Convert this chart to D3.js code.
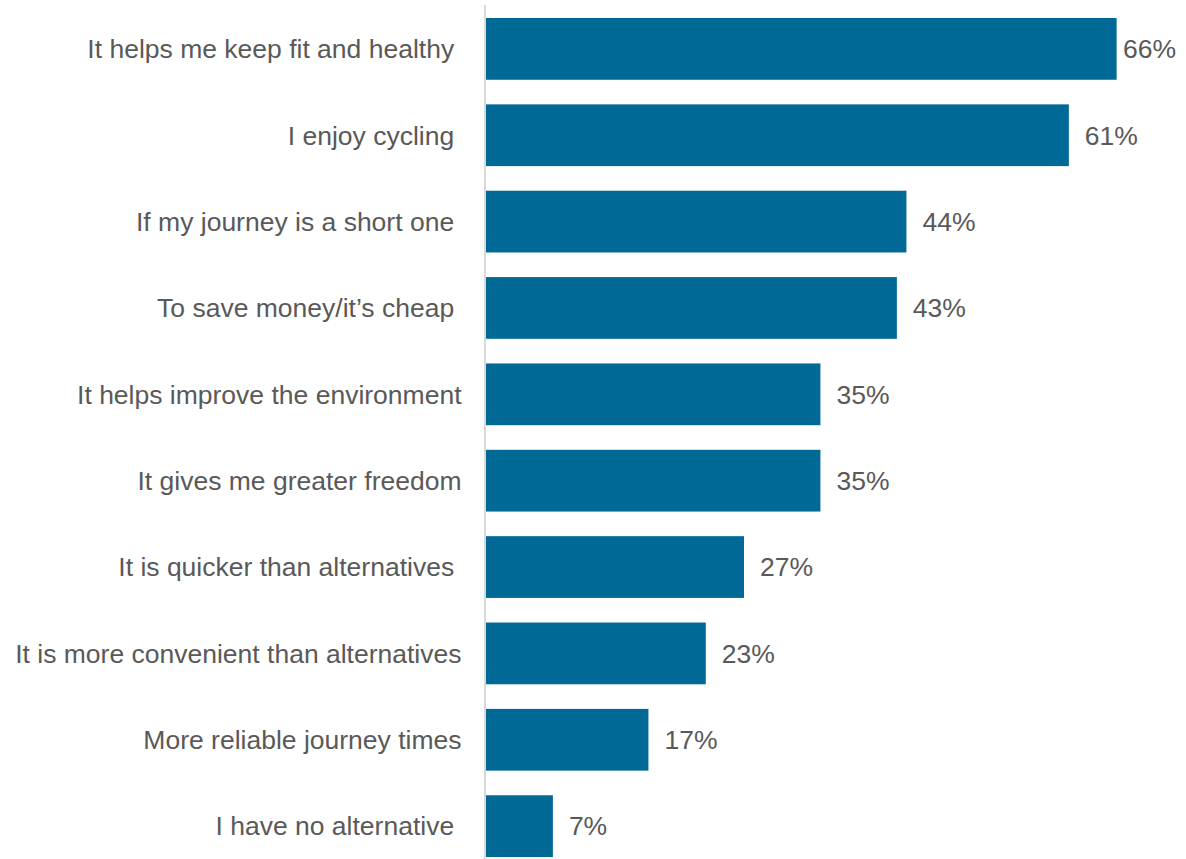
<!DOCTYPE html>
<html>
<head>
<meta charset="utf-8">
<script src="https://cdn.jsdelivr.net/npm/d3@7"></script>
<style>
  html, body { margin: 0; padding: 0; background: #ffffff; }
  svg { display: block; }
  text { font-family: "Liberation Sans", Arial, sans-serif; fill: #595959; }
</style>
</head>
<body>
<svg id="chart" width="1186" height="859"></svg>
<script>
// Reasons for cycling, share of respondents (%)
const categories = [
  "It helps me keep fit and healthy ",
  "I enjoy cycling ",
  "If my journey is a short one ",
  "To save money/it\u2019s cheap ",
  "It helps improve the environment",
  "It gives me greater freedom",
  "It is quicker than alternatives ",
  "It is more convenient than alternatives",
  "More reliable journey times",
  "I have no alternative "
];
const values = [66, 61, 44, 43, 35, 35, 27, 23, 17, 7];
const valueLabels = ["66%", "61%", "44%", "43%", "35%", "35%", "27%", "23%", "17%", "7%"];

const svg = d3.select("#chart");
const axisX = 485;
const barX0 = 486;
const labelRightLimit = 1176;

const x = d3.scaleLinear().domain([0, 70]).range([barX0, barX0 + 70 * 9.555]);
const y = d3.scaleBand()
  .domain(categories)
  .range([5.7, 869.3])
  .paddingInner(0.285)
  .paddingOuter(0.1425);

// bars
svg.append("g")
  .selectAll("rect")
  .data(values)
  .join("rect")
  .attr("x", x(0))
  .attr("y", (d, i) => y(categories[i]))
  .attr("width", d => x(d) - x(0))
  .attr("height", y.bandwidth())
  .attr("fill", "#006996");

// category axis line
svg.append("line")
  .attr("x1", axisX).attr("x2", axisX)
  .attr("y1", 5).attr("y2", 870)
  .attr("stroke", "#d9d9d9")
  .attr("stroke-width", 2);

// category labels
svg.append("g")
  .selectAll("text")
  .data(categories)
  .join("text")
  .attr("x", 461.5)
  .attr("y", d => y(d) + y.bandwidth() / 2)
  .attr("dy", "0.35em")
  .attr("text-anchor", "end")
  .attr("font-size", "26.5px")
  .style("white-space", "pre")
  .attr("xml:space", "preserve")
  .text(d => d);

// value labels, nudged left when they would run past the plot's right edge
svg.append("g")
  .selectAll("text")
  .data(values)
  .join("text")
  .attr("y", (d, i) => y(categories[i]) + y.bandwidth() / 2)
  .attr("dy", "0.35em")
  .attr("font-size", "26.5px")
  .text((d, i) => valueLabels[i])
  .each(function(d) {
    const w = this.getComputedTextLength();
    const pos = Math.min(x(d) + 16, labelRightLimit - w);
    d3.select(this).attr("x", pos);
  });
</script>
</body>
</html>
